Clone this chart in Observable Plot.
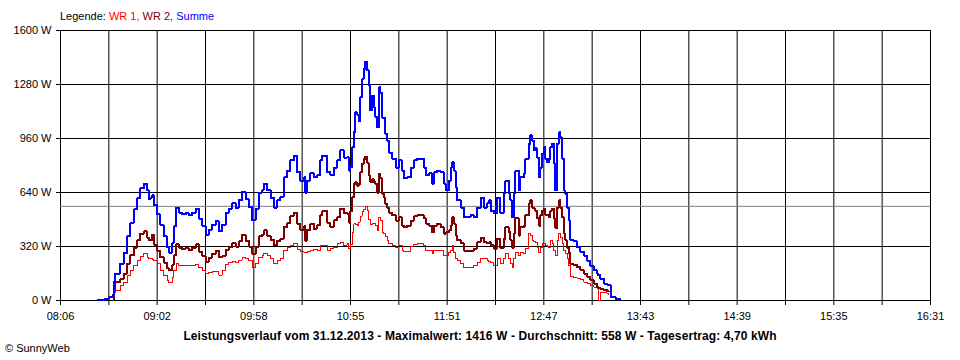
<!DOCTYPE html>
<html><head><meta charset="utf-8">
<script src="https://cdn.jsdelivr.net/npm/d3@7"></script>
<script src="https://cdn.jsdelivr.net/npm/@observablehq/plot@0.6"></script>
<style>
body{margin:0;background:#fff;}
#wrap{position:relative;width:960px;height:360px;font-family:"Liberation Sans",Arial,sans-serif;font-size:11px;color:#000;}
#legend{position:absolute;left:60px;top:10px;white-space:nowrap;}
#title{position:absolute;left:0;width:960px;top:329px;text-align:center;font-weight:bold;font-size:12px;letter-spacing:0.1px;white-space:nowrap;}
#credit{position:absolute;left:5px;top:342px;white-space:nowrap;}
</style></head><body>
<div id="wrap"><div id="chart"></div><div id="legend"></div><div id="title"></div><div id="credit"></div></div>
<script>
// time of day in minutes after midnight
const minutes = [506.9,511.5,513.9,516.2,516.8,517.9,520.8,522.7,524.7,526.6,
528.5,530.5,532.4,534.4,536.3,537.3,538.2,539.2,540.2,542.1,
544.0,546.0,547.9,548.9,550.8,551.8,553.3,554.7,556.6,558.6,
560.5,562.4,564.4,566.3,568.3,570.2,572.1,574.1,576.0,577.9,
579.9,581.8,583.7,585.7,587.6,589.5,591.5,593.4,595.3,597.3,
599.2,601.1,603.1,604.0,606.0,607.9,609.8,611.8,613.7,615.6,
617.6,619.5,621.4,623.4,625.3,627.2,628.2,629.2,631.1,633.0,
635.0,636.9,637.9,640.8,642.7,644.6,646.6,648.5,650.4,652.4,
653.3,654.3,655.3,656.3,657.2,658.2,659.2,660.1,661.1,662.1,
663.0,664.0,665.0,665.9,666.9,667.9,668.8,669.8,670.8,671.7,
672.7,673.7,674.6,675.6,676.6,678.5,680.5,682.4,684.3,685.3,
687.2,689.2,691.1,693.1,695.0,696.9,697.9,699.8,701.8,702.7,
704.7,706.6,708.5,709.5,711.4,712.4,713.4,714.3,715.3,716.3,
718.2,720.1,722.1,724.0,725.9,727.9,729.8,731.7,733.7,734.6,
735.6,737.5,739.5,741.4,743.3,744.3,746.2,747.2,748.2,749.1,
750.1,752.0,753.0,754.9,755.9,757.8,758.8,759.8,760.7,761.7,
762.7,763.6,764.6,765.6,766.5,767.5,768.5,769.4,770.4,771.4,
772.3,773.3,774.3,775.2,776.2,777.2,778.1,779.1,780.1,781.0,
782.0,783.9,785.9,787.8,789.8,791.7,793.6,795.6,797.5,798.1,
799.4,801.4,803.3,804.3,805.3,808.2,811.1];

const summe = [4,6,18,30,107,160,219,280,380,460,
540,605,664,693,652,600,610,625,565,510,
445,380,315,284,340,440,551,521,510,516,
504,521,545,485,440,390,420,450,470,410,
450,520,545,575,550,595,645,600,555,475,
545,640,655,693,652,610,551,593,615,729,
770,830,859,760,711,729,640,711,755,729,
741,830,859,760,741,788,830,889,847,850,
770,790,908,1000,1115,1100,1062,1204,1313,1373,
1416,1363,1275,1126,1214,1144,1090,1026,1263,1230,
1084,1080,989,948,877,841,788,830,770,723,
729,788,830,841,841,788,741,753,693,759,
770,759,693,652,711,788,818,770,670,593,
551,492,492,504,492,551,610,551,575,593,
533,516,610,521,634,711,634,593,492,634,
770,652,729,753,841,930,978,948,889,901,
847,729,788,871,907,841,818,841,907,930,
812,652,930,996,966,841,652,634,551,474,
356,350,316,290,265,237,205,178,158,150,
130,99,92,89,20,10,6];

const wr2 = [null,null,null,6,59,107,130,160,219,267,
314,356,397,409,373,356,356,390,330,296,
255,225,190,178,210,267,332,314,303,310,
297,314,332,290,262,230,254,278,295,255,
265,300,315,340,320,350,390,355,320,275,
320,380,390,415,385,360,330,355,365,435,
460,500,520,455,420,440,355,420,455,425,
445,505,530,462,435,475,495,545,520,512,
462,530,611,690,700,680,690,760,810,841,
853,815,740,700,720,700,690,638,752,723,
633,610,574,551,521,504,474,492,444,433,
444,474,498,504,504,486,456,444,403,444,
456,433,397,403,415,444,492,456,385,356,
338,296,296,296,308,344,373,344,338,344,
326,308,367,314,367,433,403,356,314,397,
486,385,433,444,504,575,593,551,545,533,
486,444,504,533,545,504,504,492,533,545,
486,427,551,593,551,492,397,356,314,279,
217,212,197,180,160,140,119,100,79,75,
68,62,55,50,null,null,null];

const wr1 = [null,null,null,0,47,59,89,107,148,178,
207,237,261,279,255,249,249,243,237,219,
178,148,119,107,136,178,219,207,207,207,
207,207,213,196,178,160,166,172,170,150,
175,215,225,230,225,240,255,248,237,198,
222,255,265,278,267,250,220,238,250,295,
312,328,338,305,291,287,285,292,296,305,
296,325,328,298,306,313,335,344,327,338,
308,330,404,455,450,445,465,500,525,540,
558,533,480,450,456,455,444,415,493,474,
405,397,380,356,338,326,314,326,296,290,
290,320,332,338,338,326,296,296,279,296,
296,296,267,267,284,296,326,284,249,237,
219,196,196,196,207,225,249,249,237,231,
225,207,249,219,249,279,249,219,196,249,
284,267,284,279,308,397,385,356,350,344,
314,284,314,338,338,326,320,314,356,338,
296,267,356,397,373,338,296,279,249,207,
145,135,128,122,109,100,89,78,69,0,
50,45,40,35,null,null,null];

const xTickLabels = ["08:06","09:02","09:58","10:55","11:51","12:47","13:43","14:39","15:35","16:31"];
const yTicks = [0,320,640,960,1280,1600];
const average = 558;
const seriesNames = ["WR 1","WR 2","Summe"];
const seriesColors = ["#ff0000","#800000","#0000ff"];
const titleText = "Leistungsverlauf vom 31.12.2013 - Maximalwert: 1416 W - Durchschnitt: 558 W - Tagesertrag: 4,70 kWh";
const creditText = "\u00A9 SunnyWeb";

const toMin = s => { const [h, m] = s.split(":").map(Number); return h * 60 + m; };
const x0 = toMin(xTickLabels[0]), x1 = toMin(xTickLabels[xTickLabels.length - 1]);
const nMinor = (xTickLabels.length - 1) * 2;
const xTicks = d3.range(nMinor + 1).map(i => x0 + i * (x1 - x0) / nMinor);
const labelTicks = xTicks.filter((_, i) => i % 2 === 0);
const labelMap = new Map(labelTicks.map((t, i) => [t, xTickLabels[i]]));

const series = [wr1, wr2, summe];
const widths = [1, 2, 2];

const chart = Plot.plot({
  width: 960, height: 360,
  marginLeft: 60, marginRight: 30, marginTop: 30, marginBottom: 60,
  x: {domain: [x0, x1]},
  y: {domain: [yTicks[0], yTicks[yTicks.length - 1]]},
  style: {fontFamily: "'Liberation Sans', Arial, sans-serif", fontSize: "11px", background: "#fff", color: "#000", overflow: "visible"},
  marks: [
    Plot.gridX(xTicks, {stroke: "#000", strokeOpacity: 1, strokeWidth: 1}),
    Plot.gridY(yTicks, {stroke: "#000", strokeOpacity: 1, strokeWidth: 1}),
    Plot.ruleY([average], {stroke: "#808080", strokeWidth: 1}),
    ...series.map((s, k) => Plot.line(minutes, {
      x: d => d, y: s, stroke: seriesColors[k], strokeWidth: widths[k],
      curve: "step-after", strokeLinejoin: "miter", strokeLinecap: "butt",
      shapeRendering: "crispEdges"
    })),
    Plot.axisX(xTicks, {tickSize: 5, tickFormat: () => "", label: null, stroke: "#000"}),
    Plot.axisX(labelTicks, {tickSize: 0, tickPadding: 12, tickFormat: d => labelMap.get(d), label: null}),
    Plot.axisY(yTicks, {tickSize: 4, tickPadding: 5, tickFormat: d => `${d} W`, label: null, stroke: "#000"})
  ]
});
document.getElementById("chart").appendChild(chart);

const legend = document.getElementById("legend");
legend.append("Legende: ");
seriesNames.forEach((n, i) => {
  const sp = document.createElement("span");
  sp.style.color = seriesColors[i];
  sp.textContent = n + (i < seriesNames.length - 1 ? ", " : "");
  legend.appendChild(sp);
});
document.getElementById("title").textContent = titleText;
document.getElementById("credit").textContent = creditText;
</script>
</body></html>
